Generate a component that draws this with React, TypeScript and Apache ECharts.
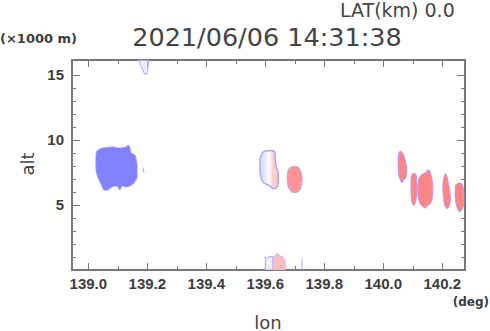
import React, { useEffect, useRef } from "react";
import * as echarts from "echarts";

const lonRange = [138.9447, 140.277];
const altRange = [0, 16.15];
const lonMajor = [139.0, 139.2, 139.4, 139.6, 139.8, 140.0, 140.2];
const lonMinor = [139.1, 139.3, 139.5, 139.7, 139.9, 140.1];
const altMajor = [5, 10, 15];
const altMinor = [1, 2, 3, 4, 6, 7, 8, 9, 11, 12, 13, 14];

const titleText = "2021/06/06 14:31:38";
const latText = "LAT(km) 0.0";

// echo outlines, [lon (deg), alt (x1000 m)]
const echoBlue = [
  [139.029, 9.15], [139.046, 9.38], [139.084, 9.46], [139.107, 9.38], [139.128, 9.46],
  [139.135, 9.62], [139.141, 9.46], [139.145, 9.0], [139.158, 8.85], [139.165, 8.23],
  [139.165, 7.08], [139.152, 6.62], [139.131, 6.38], [139.114, 6.46], [139.107, 6.15],
  [139.097, 6.46], [139.08, 6.38], [139.067, 6.15], [139.053, 6.15], [139.043, 6.62],
  [139.033, 7.08], [139.026, 7.69], [139.026, 8.77],
];
const echoBlueSpeck = [[139.185, 7.6], [139.187, 8.0], [139.19, 7.6], [139.187, 7.5]];
const echoTopV = [[139.17, 16.15], [139.19, 15.1], [139.2, 15.1], [139.205, 16.15]];
const echoMixed = [
  [139.59, 9.0], [139.6, 9.15], [139.63, 9.15], [139.633, 8.9], [139.636, 8.0],
  [139.643, 7.6], [139.643, 6.6], [139.636, 6.3], [139.624, 6.3], [139.614, 6.5],
  [139.594, 6.7], [139.584, 7.2], [139.582, 8.5],
];
const echoPink = [
  [139.678, 7.7], [139.688, 7.92], [139.71, 7.92], [139.72, 7.6], [139.725, 7.0],
  [139.72, 6.3], [139.71, 6.0], [139.69, 6.0], [139.678, 6.4], [139.674, 7.1],
];
const echoRedA = [
  [140.052, 8.95], [140.058, 9.15], [140.068, 8.9], [140.076, 8.3], [140.08, 7.7],
  [140.077, 7.1], [140.068, 6.9], [140.064, 6.7], [140.058, 6.9], [140.052, 7.4], [140.05, 8.3],
];
const echoRedB = [
  [140.095, 7.2], [140.099, 7.4], [140.109, 7.4], [140.113, 7.0], [140.114, 6.0],
  [140.109, 5.2], [140.103, 4.95], [140.097, 5.2], [140.094, 6.0], [140.094, 6.8],
];
const echoRedC = [
  [140.12, 7.0], [140.13, 7.35], [140.145, 7.5], [140.15, 7.7], [140.157, 7.65],
  [140.163, 7.2], [140.168, 6.5], [140.167, 5.6], [140.16, 5.1], [140.15, 4.95],
  [140.143, 4.77], [140.135, 4.85], [140.125, 5.1], [140.118, 5.6], [140.117, 6.3],
];
const echoRedD = [
  [140.206, 7.2], [140.211, 7.4], [140.216, 7.2], [140.222, 6.5], [140.228, 5.6],
  [140.225, 5.0], [140.216, 4.7], [140.208, 5.0], [140.203, 5.8], [140.202, 6.5],
];
const echoRedE = [
  [140.245, 6.5], [140.255, 6.69], [140.268, 6.6], [140.272, 6.0], [140.272, 5.0],
  [140.265, 4.6], [140.258, 4.46], [140.25, 4.8], [140.244, 5.5],
];
const echoLowPink = [
  [139.627, 0], [139.627, 1.0], [139.635, 1.1], [139.642, 1.3], [139.648, 1.1],
  [139.66, 1.0], [139.667, 0.7], [139.667, 0],
];
const echoLowBlue = [[139.6, 0], [139.6, 0.95], [139.626, 1.05], [139.626, 0]];
const echoLowLine = [[139.723, 0], [139.723, 0.9], [139.726, 0.9], [139.726, 0]];

const AXIS_COLOR = "#777";
const LABEL_COLOR = "#3c3c3c";

export default function App() {
  const ref = useRef<HTMLDivElement>(null);
  useEffect(() => {
    if (!ref.current) return;
    const chart = echarts.init(ref.current, null, { renderer: "svg" });

    const blueStyle = { fill: "#8282ff", stroke: "#9a9aff", lineWidth: 0.8 };
    const redStyle = { fill: "#ff8585", stroke: "#b89cff", lineWidth: 1 };
    const mixedStyle = {
      fill: new echarts.graphic.LinearGradient(0, 0, 1, 0, [
        { offset: 0, color: "#d8d8ff" },
        { offset: 0.35, color: "#ececff" },
        { offset: 0.5, color: "#ffffff" },
        { offset: 0.7, color: "#ffd0d0" },
        { offset: 1, color: "#ffc4c4" },
      ]),
      stroke: "#a4a4ff",
      lineWidth: 1.4,
    };
    const blobs: { pts: number[][]; style: any; smooth: number }[] = [
      { pts: echoBlue, style: blueStyle, smooth: 0.15 },
      { pts: echoBlueSpeck, style: { fill: "#a8a8ff" }, smooth: 0 },
      { pts: echoTopV, style: { fill: "rgba(225,225,255,0.6)", stroke: "#a8a8ff", lineWidth: 1 }, smooth: 0 },
      { pts: echoMixed, style: mixedStyle, smooth: 0.3 },
      { pts: echoPink, style: { fill: "#ff9494", stroke: "#b0a0ff", lineWidth: 1 }, smooth: 0.3 },
      { pts: echoRedA, style: redStyle, smooth: 0.3 },
      { pts: echoRedB, style: redStyle, smooth: 0.3 },
      { pts: echoRedC, style: redStyle, smooth: 0.3 },
      { pts: echoRedD, style: redStyle, smooth: 0.3 },
      { pts: echoRedE, style: redStyle, smooth: 0.3 },
      { pts: echoLowBlue, style: { fill: "#eeeeff", stroke: "#a8a8ff", lineWidth: 1 }, smooth: 0 },
      { pts: echoLowPink, style: { fill: "#ffbcbc", stroke: "#c0b0ff", lineWidth: 0.8 }, smooth: 0.2 },
      { pts: echoLowLine, style: { fill: "#9a9aff" }, smooth: 0 },
    ];

    const xAx = (position: string, ticks: number[], len: number, main: boolean, label: boolean) => ({
      type: "value",
      position,
      min: lonRange[0],
      max: lonRange[1],
      splitLine: { show: false },
      axisLine: { show: main, onZero: false, lineStyle: { color: AXIS_COLOR, width: 2 } },
      axisTick: { show: true, inside: true, length: len, customValues: ticks, lineStyle: { color: AXIS_COLOR, width: 1 } },
      axisLabel: {
        show: label,
        customValues: ticks,
        margin: 6,
        color: LABEL_COLOR,
        fontFamily: "Liberation Sans",
        fontWeight: "bold",
        fontSize: 15,
        formatter: (v: number) => v.toFixed(1),
      },
    });
    const yAx = (position: string, ticks: number[], len: number, main: boolean, label: boolean) => ({
      type: "value",
      position,
      min: altRange[0],
      max: altRange[1],
      splitLine: { show: false },
      axisLine: { show: main, onZero: false, lineStyle: { color: AXIS_COLOR, width: 2 } },
      axisTick: { show: true, inside: true, length: len, customValues: ticks, lineStyle: { color: AXIS_COLOR, width: 1 } },
      axisLabel: {
        show: label,
        customValues: ticks,
        margin: 8,
        color: LABEL_COLOR,
        fontFamily: "Liberation Sans",
        fontWeight: "bold",
        fontSize: 15,
        formatter: (v: number) => String(v),
      },
    });

    chart.setOption({
      animation: false,
      backgroundColor: "#ffffff",
      grid: { left: 72, top: 60, width: 393, height: 210, containLabel: false },
      xAxis: [
        xAx("bottom", lonMajor, 7, true, true),
        xAx("bottom", lonMinor, 4, false, false),
        xAx("top", lonMajor, 7, true, false),
        xAx("top", lonMinor, 4, false, false),
      ],
      yAxis: [
        yAx("left", altMajor, 8, true, true),
        yAx("left", altMinor, 4, false, false),
        yAx("right", altMajor, 8, true, false),
        yAx("right", altMinor, 4, false, false),
      ],
      series: blobs.map((b) => ({
        type: "custom",
        xAxisIndex: 0,
        yAxisIndex: 0,
        clip: true,
        silent: true,
        z: 1,
        data: b.pts,
        encode: { x: 0, y: 1 },
        renderItem: (params: any, api: any) => {
          if (params.dataIndex !== 0) return null;
          const points = b.pts.map((p) => api.coord(p));
          return {
            type: "polygon",
            shape: { points, smooth: b.smooth },
            style: b.style,
          };
        },
      })),
      graphic: [
        {
          type: "text",
          style: { text: latText, x: 340, y: 10, textAlign: "left", textVerticalAlign: "middle", fill: "#444", font: "19px 'DejaVu Sans'" },
        },
        {
          type: "text",
          style: { text: titleText, x: 267, y: 37, textAlign: "center", textVerticalAlign: "middle", fill: "#444", font: "25.5px 'DejaVu Sans'" },
        },
        {
          type: "text",
          style: { text: "(×1000 m)", x: 0, y: 38.5, textAlign: "left", textVerticalAlign: "middle", fill: "#3c3c3c", font: "bold 13px 'DejaVu Sans'" },
        },
        {
          type: "text",
          style: { text: "(deg)", x: 489, y: 301.5, textAlign: "right", textVerticalAlign: "middle", fill: "#3c3c3c", font: "bold 12px 'DejaVu Sans'" },
        },
        {
          type: "text",
          style: { text: "lon", x: 268, y: 322, textAlign: "center", textVerticalAlign: "middle", fill: "#444", font: "18px 'DejaVu Sans'" },
        },
        {
          type: "text",
          x: 27.5,
          y: 164,
          rotation: Math.PI / 2,
          style: { text: "alt", x: 0, y: 0, textAlign: "center", textVerticalAlign: "middle", fill: "#444", font: "18px 'DejaVu Sans'" },
        },
      ],
    });
    return () => chart.dispose();
  }, []);
  return <div ref={ref} style={{ width: 490, height: 331, position: "absolute", left: 0, top: 0 }} />;
}
